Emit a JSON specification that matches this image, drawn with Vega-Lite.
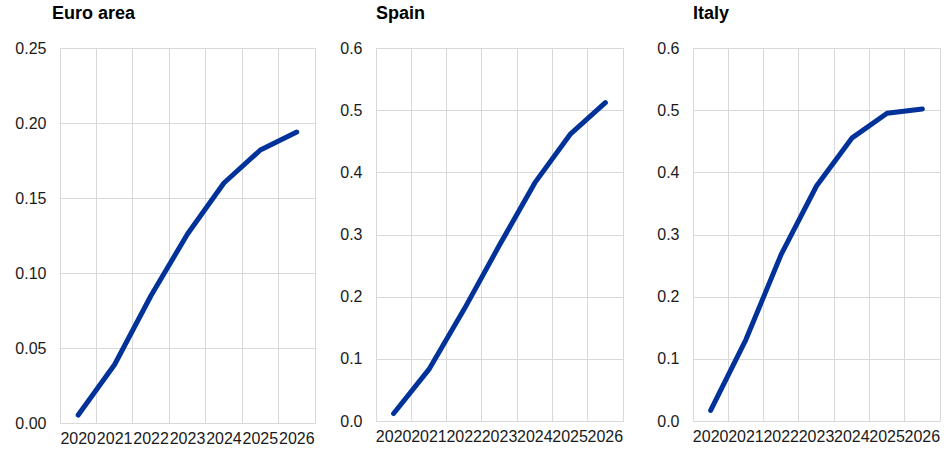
{
  "$schema": "https://vega.github.io/schema/vega-lite/v6.json",
  "padding": {"left": 0, "top": 4, "right": 0, "bottom": 0},
  "spacing": 18,
  "data": {"values": [
    {"country": "Euro area", "year": "2020", "value": 0.0053},
    {"country": "Euro area", "year": "2021", "value": 0.039},
    {"country": "Euro area", "year": "2022", "value": 0.085},
    {"country": "Euro area", "year": "2023", "value": 0.126},
    {"country": "Euro area", "year": "2024", "value": 0.160},
    {"country": "Euro area", "year": "2025", "value": 0.182},
    {"country": "Euro area", "year": "2026", "value": 0.194},
    {"country": "Spain", "year": "2020", "value": 0.012},
    {"country": "Spain", "year": "2021", "value": 0.083},
    {"country": "Spain", "year": "2022", "value": 0.180},
    {"country": "Spain", "year": "2023", "value": 0.283},
    {"country": "Spain", "year": "2024", "value": 0.383},
    {"country": "Spain", "year": "2025", "value": 0.461},
    {"country": "Spain", "year": "2026", "value": 0.512},
    {"country": "Italy", "year": "2020", "value": 0.017},
    {"country": "Italy", "year": "2021", "value": 0.131},
    {"country": "Italy", "year": "2022", "value": 0.268},
    {"country": "Italy", "year": "2023", "value": 0.378},
    {"country": "Italy", "year": "2024", "value": 0.455},
    {"country": "Italy", "year": "2025", "value": 0.495},
    {"country": "Italy", "year": "2026", "value": 0.502}
  ]},
  "hconcat": [
    {
      "width": 255, "height": 375,
      "title": {"text": "Euro area", "dx": -8},
      "transform": [{"filter": "datum.country === 'Euro area'"}],
      "mark": {"type": "line", "color": "#003299", "strokeWidth": 5, "strokeCap": "round", "strokeJoin": "round"},
      "encoding": {
        "x": {"field": "year", "type": "ordinal", "scale": {"type": "band", "paddingInner": 0, "paddingOuter": 0}, "axis": {"title": null, "labelAngle": 0, "bandPosition": 0}},
        "y": {"field": "value", "type": "quantitative", "scale": {"domain": [0, 0.25], "nice": false, "zero": true}, "axis": {"title": null, "values": [0, 0.05, 0.1, 0.15, 0.2, 0.25], "format": ".2f", "minExtent": 59}}
      }
    },
    {
      "width": 247, "height": 373,
      "title": {"text": "Spain"},
      "transform": [{"filter": "datum.country === 'Spain'"}],
      "mark": {"type": "line", "color": "#003299", "strokeWidth": 5, "strokeCap": "round", "strokeJoin": "round"},
      "encoding": {
        "x": {"field": "year", "type": "ordinal", "scale": {"type": "band", "paddingInner": 0, "paddingOuter": 0}, "axis": {"title": null, "labelAngle": 0, "bandPosition": 0}},
        "y": {"field": "value", "type": "quantitative", "scale": {"domain": [0, 0.6], "nice": false, "zero": true}, "axis": {"title": null, "values": [0, 0.1, 0.2, 0.3, 0.4, 0.5, 0.6], "format": ".1f", "minExtent": 41}}
      }
    },
    {
      "width": 247, "height": 373,
      "title": {"text": "Italy"},
      "transform": [{"filter": "datum.country === 'Italy'"}],
      "mark": {"type": "line", "color": "#003299", "strokeWidth": 5, "strokeCap": "round", "strokeJoin": "round"},
      "encoding": {
        "x": {"field": "year", "type": "ordinal", "scale": {"type": "band", "paddingInner": 0, "paddingOuter": 0}, "axis": {"title": null, "labelAngle": 0, "bandPosition": 0}},
        "y": {"field": "value", "type": "quantitative", "scale": {"domain": [0, 0.6], "nice": false, "zero": true}, "axis": {"title": null, "values": [0, 0.1, 0.2, 0.3, 0.4, 0.5, 0.6], "format": ".1f", "minExtent": 50}}
      }
    }
  ],
  "config": {
    "font": "Liberation Sans",
    "view": {"stroke": "#d9d9d9", "strokeWidth": 1},
    "title": {"anchor": "start", "frame": "group", "fontSize": 18, "fontWeight": "bold", "color": "#000000", "offset": 17},
    "axis": {
      "domain": false, "ticks": false, "tickSize": 0,
      "labelFontSize": 16, "labelColor": "#1a1a1a", "labelFont": "Liberation Sans",
      "gridColor": "#d9d9d9", "gridWidth": 1, "grid": true
    },
    "axisX": {"labelPadding": 7, "labelOverlap": false, "labelFlush": false},
    "axisY": {"labelPadding": 14}
  }
}
